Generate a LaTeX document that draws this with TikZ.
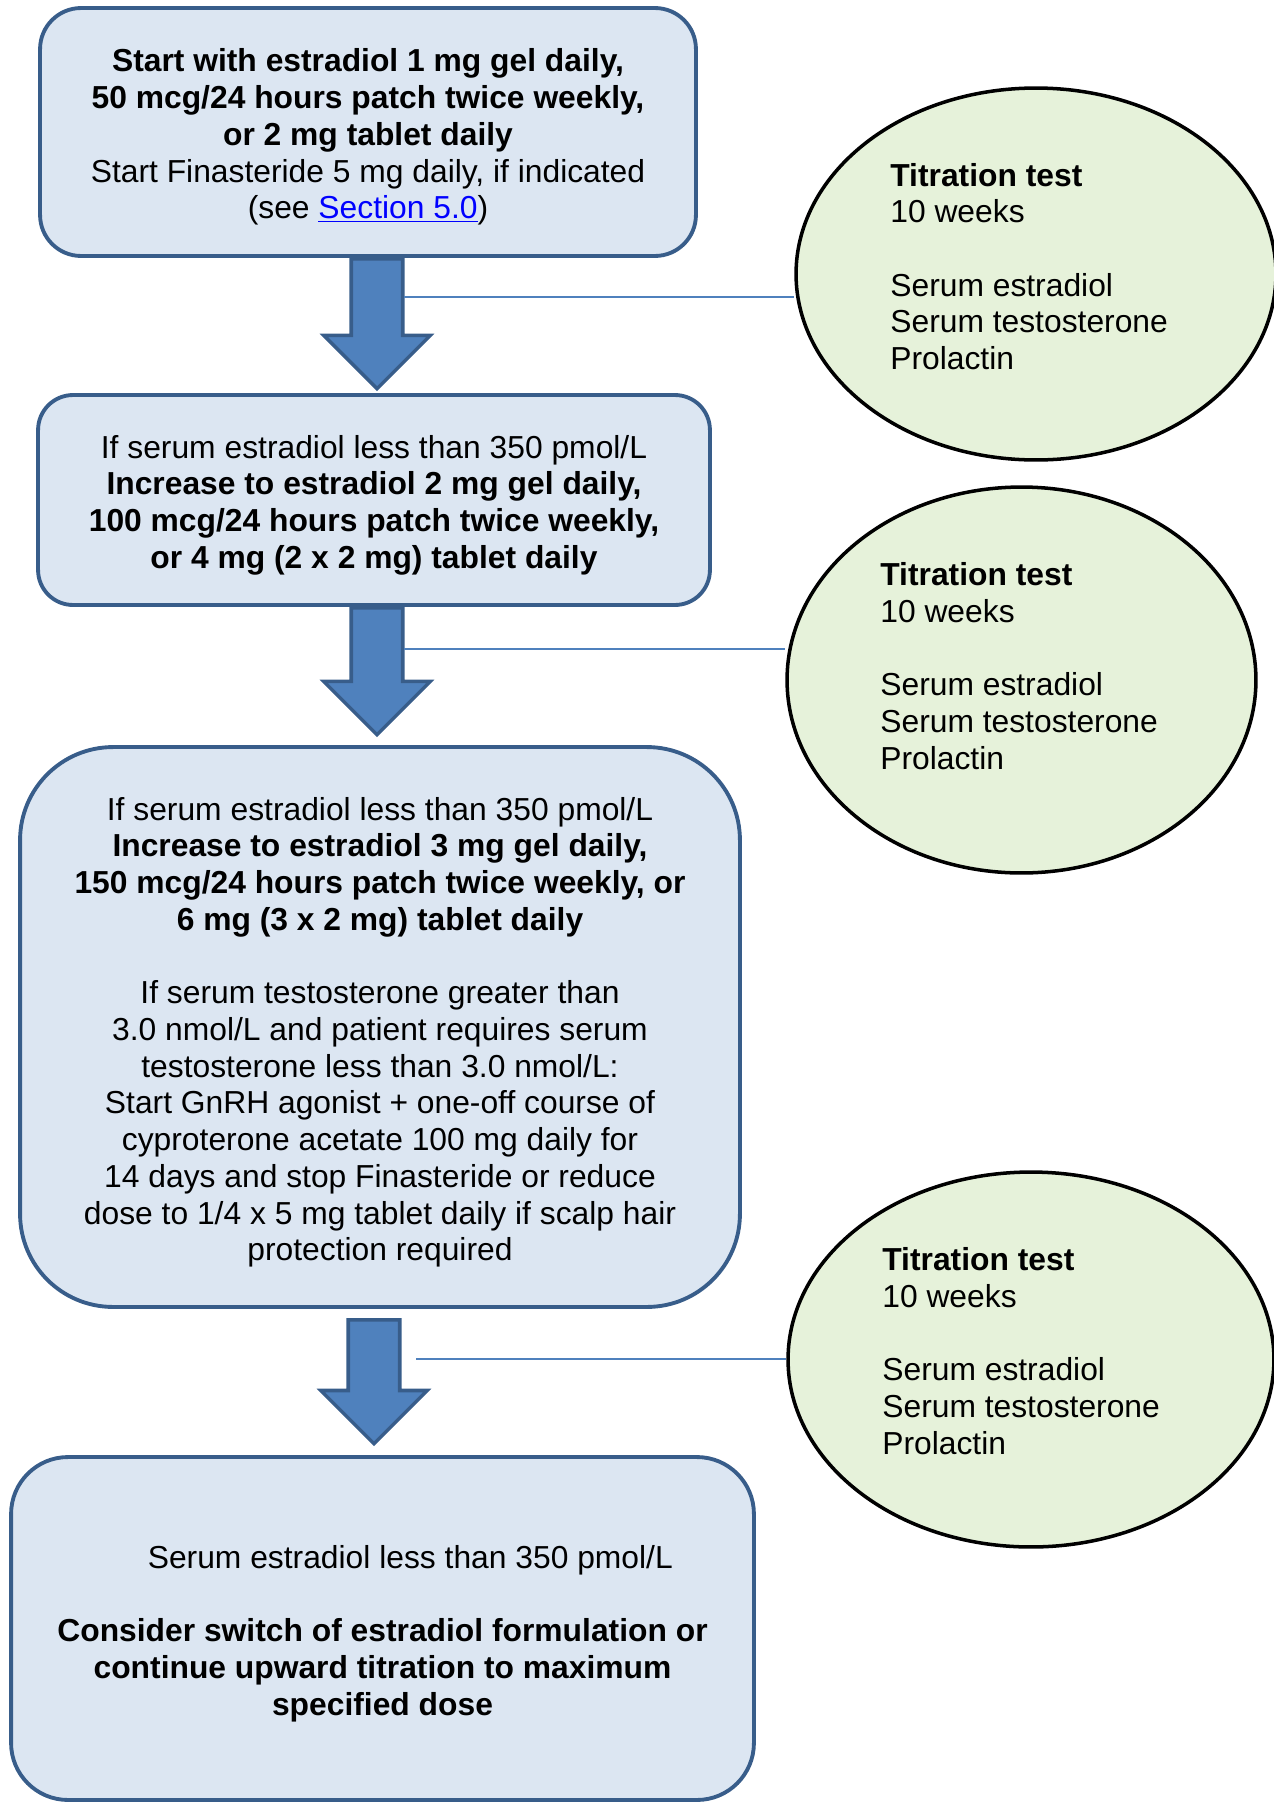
\documentclass[tikz,border=0pt]{standalone}
\usepackage{fontspec}
\setmainfont{Liberation Sans}
\usepackage{xcolor}
\usetikzlibrary{shapes.geometric,shapes.arrows}
\definecolor{boxfill}{HTML}{DCE6F2}
\definecolor{boxline}{HTML}{385D8A}
\definecolor{arrowfill}{HTML}{4F81BD}
\definecolor{testfill}{HTML}{E6F2DA}
\definecolor{linkblue}{HTML}{0000FF}

\begin{document}
\begin{tikzpicture}[x=0.02cm, y=-0.02cm]
    % Styles for boxes, tests and arrows
    \tikzset{
      box/.style={rectangle, draw=boxline, fill=boxfill, line width=2.2pt, align=center, font=\fontsize{18.1}{20.9}\selectfont},
      test/.style={ellipse, draw=black, fill=testfill, line width=2pt, inner sep=0pt},
      testtext/.style={anchor=west, align=left, inner sep=0pt, font=\fontsize{18.1}{20.9}\selectfont},
      bigarrow/.style={single arrow, draw=boxline, fill=arrowfill, line width=2pt, rotate=-90, anchor=tail, inner xsep=0pt, inner ysep=0.48cm, single arrow head extend=0.55cm, single arrow tip angle=90},
      link/.style={draw=arrowfill, line width=0.8pt}
    }

    \useasboundingbox (0,0) rectangle (1274,1802);
    \clip (0,0) rectangle (1274,1802);

    % Dose boxes with explicit coordinates
    \node[box, minimum width=13.12cm, minimum height=4.96cm, rounded corners=0.82cm] (start) at (368,132) {
\rule{0pt}{19pt}\textbf{Start with estradiol 1 mg gel daily,}\\
\textbf{50 mcg/24 hours patch twice weekly,}\\
\textbf{or 2 mg tablet daily}\\
Start Finasteride 5 mg daily, if indicated\\
(see {\color{linkblue}\underline{Section 5.0}})};
    \node[box, minimum width=13.44cm, minimum height=4.2cm, rounded corners=0.7cm] (dose2) at (374,500) {
\rule{0pt}{19pt}If serum estradiol less than 350 pmol/L\\
\textbf{Increase to estradiol 2 mg gel daily,}\\
\textbf{100 mcg/24 hours patch twice weekly,}\\
\textbf{or 4 mg (2 x 2 mg) tablet daily}};
    \node[box, minimum width=14.4cm, minimum height=11.2cm, rounded corners=1.86cm] (dose3) at (380,1027) {
\rule{0pt}{19pt}If serum estradiol less than 350 pmol/L\\
\textbf{Increase to estradiol 3 mg gel daily,}\\
\textbf{150 mcg/24 hours patch twice weekly, or}\\
\textbf{6 mg (3 x 2 mg) tablet daily}\\[\baselineskip]
If serum testosterone greater than\\
3.0 nmol/L and patient requires serum\\
testosterone less than 3.0 nmol/L:\\
Start GnRH agonist + one-off course of\\
cyproterone acetate 100 mg daily for\\
14 days and stop Finasteride or reduce\\
dose to 1/4 x 5 mg tablet daily if scalp hair\\
protection required};
    \node[box, minimum width=14.86cm, minimum height=6.86cm, rounded corners=1.14cm] (switch) at (382.5,1628.5) {
\rule{0pt}{19pt}\hspace*{1.75em}Serum estradiol less than 350 pmol/L\\[\baselineskip]
\textbf{Consider switch of estradiol formulation or}\\
\textbf{continue upward titration to maximum}\\
\textbf{specified dose}};

    % Titration tests
    \node[test, minimum width=9.6cm, minimum height=7.44cm] (test1) at (1036,274) {};
    \node[testtext] (test1text) at (890,266.5) {\textbf{Titration test}\\ 10 weeks\\[\baselineskip] Serum estradiol\\ Serum testosterone\\ Prolactin};
    \node[test, minimum width=9.38cm, minimum height=7.72cm] (test2) at (1021.5,680) {};
    \node[testtext] (test2text) at (880,666) {\textbf{Titration test}\\ 10 weeks\\[\baselineskip] Serum estradiol\\ Serum testosterone\\ Prolactin};
    \node[test, minimum width=9.72cm, minimum height=7.5cm] (test3) at (1031,1359.5) {};
    \node[testtext] (test3text) at (882,1351) {\textbf{Titration test}\\ 10 weeks\\[\baselineskip] Serum estradiol\\ Serum testosterone\\ Prolactin};

    % Block arrows between the boxes
    \node[bigarrow, minimum height=2.6cm] (arrow1) at (377,257) {};
    \node[bigarrow, minimum height=2.54cm] (arrow2) at (377,606) {};
    \node[bigarrow, minimum height=2.48cm] (arrow3) at (374,1318) {};

    % Lines to the tests
    \coordinate (l1) at (404,297);
    \coordinate (l2) at (404,649);
    \coordinate (l3) at (416,1359);
    \draw[link] (l1) -- (test1.west |- l1);
    \draw[link] (l2) -- (test2.west |- l2);
    \draw[link] (l3) -- (test3.west |- l3);

\end{tikzpicture}
\end{document}
